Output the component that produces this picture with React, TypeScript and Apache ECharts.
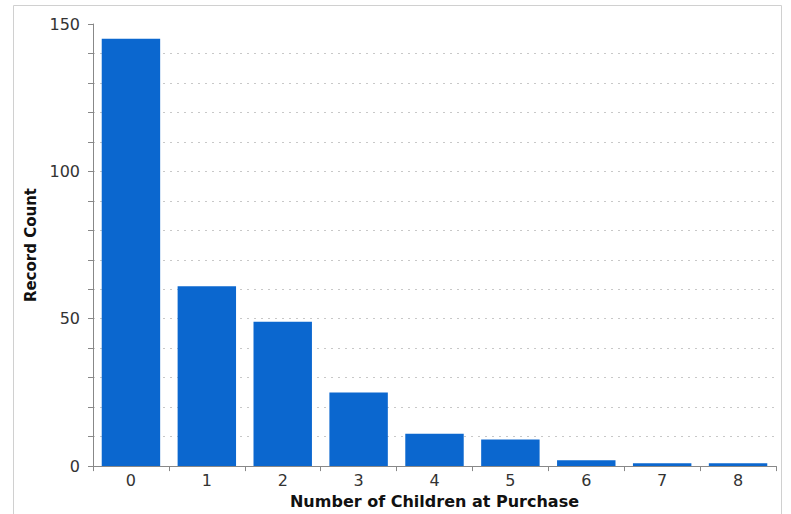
import React, { useEffect, useRef } from "react";
import * as echarts from "echarts";

const categories = ["0", "1", "2", "3", "4", "5", "6", "7", "8"];
const recordCounts = [145, 61, 49, 25, 11, 9, 2, 1, 1];
const yMax = 150;
const yInterval = 10;

export default function App() {
  const ref = useRef<HTMLDivElement>(null);
  useEffect(() => {
    document.body.style.margin = "0";
    const chart = echarts.init(ref.current!, undefined, { renderer: "svg" });
    const splitColors: string[] = [];
    for (let v = 0; v <= yMax; v += yInterval) splitColors.push(v === yMax ? "rgba(0,0,0,0)" : "#c8c8c8");
    chart.setOption({
      animation: false,
      backgroundColor: "#ffffff",
      graphic: [
        {
          type: "rect",
          shape: { x: 13.5, y: 5.5, width: 768, height: 530 },
          style: { fill: "none", stroke: "#d0d0d0", lineWidth: 1 },
          silent: true,
        },
      ],
      grid: { left: 93, right: 15, top: 24, bottom: 47 },
      xAxis: {
        type: "category",
        data: categories,
        name: "Number of Children at Purchase",
        nameLocation: "middle",
        nameGap: 26,
        nameTextStyle: { fontFamily: "DejaVu Sans", fontWeight: "bold", fontSize: 16, color: "#111" },
        axisLine: { lineStyle: { color: "#888", width: 1 } },
        axisTick: { show: true, length: 5, lineStyle: { color: "#888" } },
        axisLabel: { fontFamily: "DejaVu Sans", fontSize: 16, color: "#333", margin: 6 },
      },
      yAxis: {
        type: "value",
        min: 0,
        max: yMax,
        interval: yInterval,
        name: "Record Count",
        nameLocation: "middle",
        nameGap: 47,
        nameTextStyle: { fontFamily: "DejaVu Sans", fontWeight: "bold", fontSize: 15, color: "#111" },
        axisLine: { show: true, lineStyle: { color: "#888", width: 1 } },
        axisTick: { show: true, length: 5, lineStyle: { color: "#888" } },
        axisLabel: {
          fontFamily: "DejaVu Sans",
          fontSize: 16,
          color: "#333",
          margin: 13,
          formatter: (v: number) => (v % 50 === 0 ? String(v) : ""),
        },
        splitLine: { show: true, lineStyle: { type: [2, 5], color: splitColors, width: 1 } },
      },
      series: [
        {
          type: "bar",
          data: recordCounts,
          barCategoryGap: "23%",
          itemStyle: { color: "#0b67cf" },
        },
      ],
    });
    return () => chart.dispose();
  }, []);
  return <div ref={ref} style={{ width: 791, height: 514 }} />;
}
